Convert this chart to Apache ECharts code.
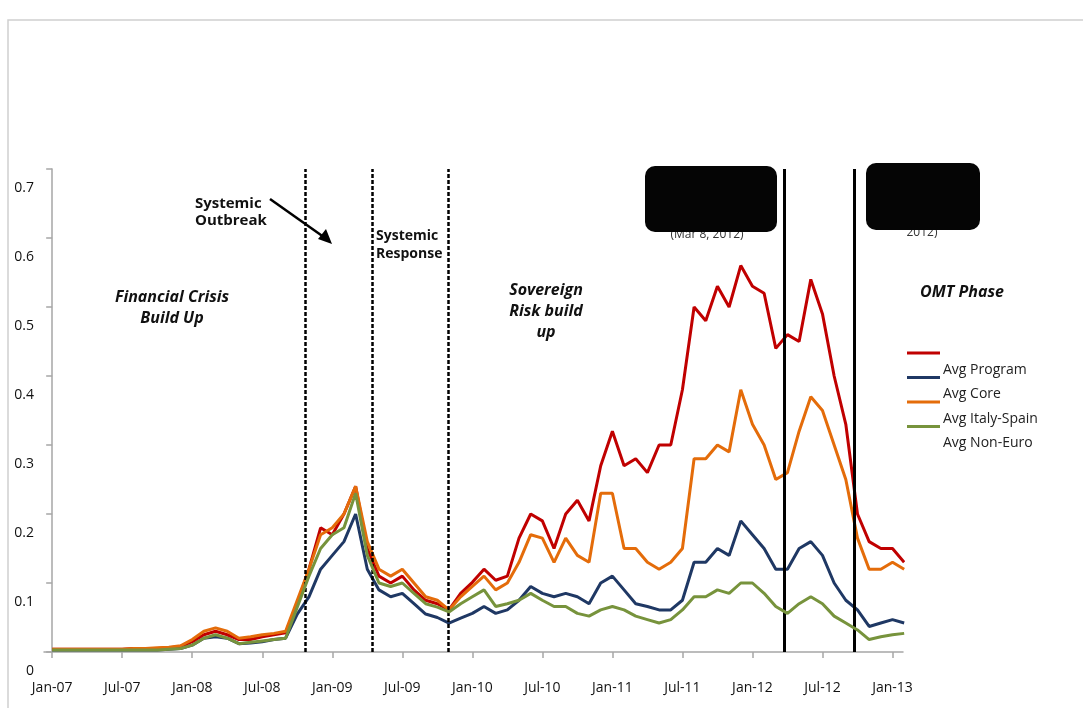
<!DOCTYPE html>
<html>
<head>
<meta charset="utf-8">
<script src="https://cdn.jsdelivr.net/npm/echarts@6/dist/echarts.min.js"></script>
<style>html,body{margin:0;padding:0;background:#fff}#main{width:1083px;height:708px}</style>
</head>
<body>
<div id="main"></div>
<script>
// month index 0 = Jan-07
var tickLabels = ['Jan-07','Jul-07','Jan-08','Jul-08','Jan-09','Jul-09','Jan-10','Jul-10','Jan-11','Jul-11','Jan-12','Jul-12','Jan-13'];
var tickIdx = [0,6,12,18,24,30,36,42,48,54,60,66,72];

var avgProgram = [0.004,0.004,0.004,0.004,0.004,0.004,0.004,0.005,0.005,0.005,0.006,0.008,
  0.015,0.025,0.03,0.025,0.018,0.018,0.022,0.025,0.028,0.07,0.12,0.18,
  0.17,0.2,0.24,0.15,0.11,0.1,0.11,0.09,0.075,0.07,0.061,0.085,
  0.101,0.12,0.104,0.11,0.165,0.2,0.19,0.15,0.2,0.22,0.19,0.27,
  0.32,0.27,0.28,0.26,0.3,0.3,0.38,0.5,0.48,0.53,0.5,0.56,
  0.53,0.52,0.44,0.46,0.45,0.54,0.49,0.4,0.33,0.2,0.16,0.15,
  0.15,0.13];
var avgCore = [0.004,0.004,0.004,0.004,0.004,0.004,0.004,0.005,0.005,0.006,0.007,0.009,
  0.018,0.03,0.035,0.03,0.02,0.022,0.025,0.027,0.03,0.075,0.12,0.17,
  0.18,0.2,0.24,0.16,0.12,0.11,0.12,0.1,0.08,0.075,0.061,0.08,
  0.095,0.11,0.09,0.1,0.13,0.17,0.165,0.13,0.165,0.14,0.13,0.23,
  0.23,0.15,0.15,0.13,0.12,0.13,0.15,0.28,0.28,0.3,0.29,0.38,
  0.33,0.3,0.25,0.26,0.32,0.37,0.35,0.3,0.25,0.165,0.12,0.12,
  0.13,0.12];
var avgItalySpain = [0.003,0.003,0.003,0.003,0.003,0.003,0.003,0.003,0.003,0.003,0.004,0.005,
  0.01,0.02,0.022,0.02,0.012,0.013,0.015,0.018,0.02,0.055,0.08,0.12,
  0.14,0.16,0.2,0.12,0.09,0.08,0.085,0.07,0.055,0.05,0.042,0.049,
  0.056,0.066,0.056,0.061,0.075,0.095,0.085,0.08,0.085,0.08,0.07,0.1,
  0.11,0.09,0.07,0.066,0.061,0.061,0.075,0.13,0.13,0.15,0.14,0.19,
  0.17,0.15,0.12,0.12,0.15,0.16,0.14,0.1,0.075,0.061,0.037,0.042,
  0.047,0.042];
var avgNonEuro = [0.003,0.003,0.003,0.003,0.003,0.003,0.003,0.003,0.003,0.003,0.004,0.005,
  0.01,0.02,0.025,0.02,0.012,0.014,0.016,0.018,0.02,0.065,0.11,0.15,
  0.17,0.18,0.23,0.14,0.1,0.095,0.1,0.085,0.07,0.065,0.058,0.07,
  0.08,0.09,0.066,0.07,0.075,0.085,0.075,0.066,0.066,0.056,0.052,0.061,
  0.066,0.061,0.052,0.047,0.042,0.047,0.061,0.08,0.08,0.09,0.085,0.1,
  0.1,0.085,0.066,0.056,0.07,0.08,0.07,0.052,0.042,0.032,0.018,0.022,
  0.025,0.027];
var dashedMarks = [21.66, 27.4, 33.9];
var solidMarks = [62.7, 68.7];

function toPairs(arr){ return arr.map(function(v,i){ return [i,v]; }); }

var chart = echarts.init(document.getElementById('main'));
var font = 'Open Sans';
var legendItems = [
  {color:'#c00000', text:''},
  {color:'#1f3864', text:'Avg Program'},
  {color:'#e46c0a', text:'Avg Core'},
  {color:'#77933c', text:'Avg Italy-Spain'},
  {color:null, text:'Avg Non-Euro'}
];
var graphics = [
  {type:'rect', shape:{x:8,y:20,width:1090,height:700}, style:{fill:'none',stroke:'#d0d0d0',lineWidth:1.5}, silent:true},
  {type:'text', left:195, top:195, style:{text:'Systemic\nOutbreak', font:'bold 15px "Open Sans"', fill:'#111', align:'center', lineHeight:17}},
  {type:'line', shape:{x1:270,y1:199,x2:328,y2:240}, style:{stroke:'#000',lineWidth:2.5}},
  {type:'polygon', shape:{points:[[332,244],[318,239],[326,229]]}, style:{fill:'#000'}},
  {type:'text', x:376, y:227, style:{text:'Systemic\nResponse', font:'bold 14px "Open Sans"', fill:'#111', lineHeight:18}},
  {type:'text', x:172, y:287, style:{text:'Financial Crisis\nBuild Up', font:'italic bold 16px "Open Sans"', fill:'#111', align:'center', lineHeight:21}},
  {type:'text', x:546, y:280, style:{text:'Sovereign\nRisk build\nup', font:'italic bold 16px "Open Sans"', fill:'#111', align:'center', lineHeight:21}},
  {type:'text', x:962, y:284, style:{text:'OMT Phase', font:'italic bold 16px "Open Sans"', fill:'#111', align:'center'}},
  {type:'text', x:707, y:229, style:{text:'(Mar 8, 2012)', font:'12px "Open Sans"', fill:'#333', align:'center'}},
  {type:'text', x:922, y:227, style:{text:'2012)', font:'12px "Open Sans"', fill:'#333', align:'center'}},
  {type:'rect', shape:{x:645,y:166,width:132,height:66,r:10}, style:{fill:'#050505'}},
  {type:'rect', shape:{x:866,y:163,width:114,height:67,r:10}, style:{fill:'#050505'}}
];
legendItems.forEach(function(it,k){
  if (it.color) graphics.push({type:'line', shape:{x1:907,y1:353+k*24.5,x2:940,y2:353+k*24.5}, style:{stroke:it.color,lineWidth:3}});
  if (it.text) graphics.push({type:'text', x:943, y:363+(k-1)*24.5, style:{text:it.text, font:'14px "Open Sans"', fill:'#222'}});
});

function mk(vals, dashed){
  return vals.map(function(v){ return {xAxis:v, lineStyle:{type:dashed?[4,2]:'solid', width:dashed?2.5:3, color:'#000'}}; });
}

chart.setOption({
  animation:false,
  backgroundColor:'#fff',
  grid:{left:44, right:180, top:169, bottom:56},
  xAxis:{type:'value', min:-0.7, max:72.9,
    axisLine:{lineStyle:{color:'#a6a6a6',width:1.5}},
    axisTick:{show:true, length:6, lineStyle:{color:'#a6a6a6',width:1.5}, customValues:tickIdx},
    axisLabel:{customValues:tickIdx, margin:29, color:'#111', fontFamily:font, fontSize:14,
      formatter:function(v){ return tickLabels[tickIdx.indexOf(Math.round(v))] || ''; }},
    splitLine:{show:false}},
  yAxis:{type:'value', min:0, max:0.7, interval:0.1,
    axisLine:{show:true, lineStyle:{color:'#a6a6a6',width:1.5}},
    axisTick:{show:true, length:6, lineStyle:{color:'#a6a6a6',width:1.5}},
    axisLabel:{color:'#111', fontFamily:font, fontSize:14, margin:10, verticalAlign:'top', padding:[12,0,0,0],
      showMinLabel:true, showMaxLabel:true, hideOverlap:false,
      formatter:function(v){ return v===0?'0':v.toFixed(1); }},
    splitLine:{show:false}},
  series:[
    {name:'Avg Program', type:'line', data:toPairs(avgProgram), showSymbol:false, lineStyle:{color:'#c00000',width:3}, z:3,
      markLine:{symbol:'none', silent:true, label:{show:false}, data:mk(dashedMarks,true).concat(mk(solidMarks,false))}},
    {name:'Avg Core', type:'line', data:toPairs(avgCore), showSymbol:false, lineStyle:{color:'#e46c0a',width:3}, z:4},
    {name:'Avg Italy-Spain', type:'line', data:toPairs(avgItalySpain), showSymbol:false, lineStyle:{color:'#1f3864',width:3}, z:2},
    {name:'Avg Non-Euro', type:'line', data:toPairs(avgNonEuro), showSymbol:false, lineStyle:{color:'#77933c',width:3}, z:5}
  ],
  graphic:graphics
});
</script>
</body>
</html>
